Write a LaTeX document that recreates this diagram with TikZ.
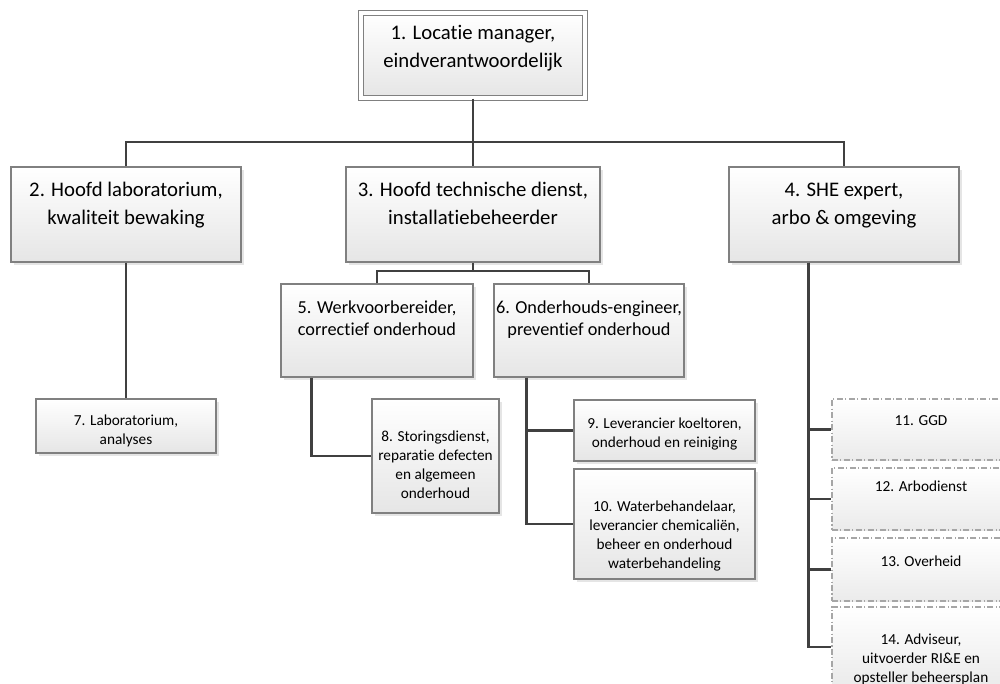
\documentclass[tikz,border=0pt]{standalone}
\usepackage{fontspec}
\setmainfont{Carlito}[Ligatures=CommonOff]
\usetikzlibrary{shadows}
\newcommand{\groot}{\fontsize{11.8}{15.4}\selectfont}
\newcommand{\middel}{\fontsize{10.4}{12.8}\selectfont}
\newcommand{\klein}{\fontsize{8.7}{10.9}\selectfont}
% breedte, hoogte, witruimte boven, tekst
\newcommand{\vak}[4]{\parbox[c][#2][t]{#1}{\centering\vspace*{#3}\strut #4\par}}
\tikzset{
  kader/.style={draw=black!50, line width=0.6pt, inner sep=0pt, top color=white, bottom color=black!10,
    drop shadow={shadow xshift=0.05cm, shadow yshift=-0.05cm, fill=black!20}},
  stippel/.style={draw=black!35, line width=0.6pt, dash pattern=on 3.4pt off 1.4pt on 0.6pt off 1.4pt,
    inner sep=0pt, top color=white, bottom color=black!8},
  lijn/.style={draw=black!75, line width=1.4pt},
}

\begin{document}
\begin{tikzpicture}
			\useasboundingbox (0,0) rectangle (20,-13.68);
			\clip (0,0) rectangle (20,-13.68);
			
			%%%%% bovenste lagen %%%%%
			\node[kader, double=white, double distance=2.4pt, font=\groot] (locatie) at (9.46,-1.11) {\vak{4.48cm}{1.70cm}{0.16cm}{1. Locatie manager,\\eindverantwoordelijk}};
			
			\node[kader, font=\groot] (hoofdlab) at (2.52,-4.29) {\vak{4.60cm}{1.90cm}{0.22cm}{2. Hoofd laboratorium,\\kwaliteit bewaking}};
			\node[kader, font=\groot] (hoofdtd) at (9.46,-4.29) {\vak{5.08cm}{1.90cm}{0.22cm}{3. Hoofd technische dienst,\\installatiebeheerder}};
			\node[kader, font=\groot] (she) at (16.88,-4.29) {\vak{4.60cm}{1.90cm}{0.22cm}{4. SHE expert,\\arbo \& omgeving}};
			
			\node[kader, font=\middel] (werkvoor) at (7.54,-6.61) {\vak{3.84cm}{1.86cm}{0.27cm}{5. Werkvoorbereider,\\correctief onderhoud}};
			\node[kader, font=\middel] (onderhoudseng) at (11.78,-6.61) {\vak{3.80cm}{1.86cm}{0.27cm}{6. Onderhouds-engineer,\\preventief onderhoud}};
			
			%%%%% uitvoerend %%%%%
			\node[kader, font=\klein] (lab) at (2.52,-8.52) {\vak{3.60cm}{1.08cm}{0.26cm}{7. Laboratorium,\\analyses}};
			\node[kader, font=\klein] (storing) at (8.71,-9.12) {\vak{2.54cm}{2.28cm}{0.58cm}{8. Storingsdienst,\\reparatie defecten\\en algemeen\\onderhoud}};
			\node[kader, font=\klein] (koeltoren) at (13.29,-8.61) {\vak{3.62cm}{1.22cm}{0.30cm}{9. Leverancier koeltoren,\\onderhoud en reiniging}};
			\node[kader, font=\klein] (waterbeh) at (13.29,-10.48) {\vak{3.62cm}{2.20cm}{0.58cm}{10. Waterbehandelaar,\\leverancier chemicaliën,\\beheer en onderhoud\\waterbehandeling}};
			
			%%%%% extern %%%%%
			\node[stippel, font=\klein] (ggd) at (18.42,-8.59) {\vak{3.56cm}{1.22cm}{0.26cm}{11. GGD}};
			\node[stippel, font=\klein] (arbo) at (18.42,-9.98) {\vak{3.56cm}{1.24cm}{0.20cm}{12. Arbodienst}};
			\node[stippel, font=\klein] (overheid) at (18.42,-11.39) {\vak{3.56cm}{1.26cm}{0.30cm}{13. Overheid}};
			\node[stippel, font=\klein] (adviseur) at (18.42,-12.94) {\vak{3.56cm}{1.60cm}{0.48cm}{14. Adviseur,\\uitvoerder RI\&E en\\opsteller beheersplan}};
			
			%%%%% lijnen %%%%%
			\coordinate (bus1) at (9.46,-2.84);
			\coordinate (bus2) at (9.46,-5.42);
			\draw[lijn] (locatie.south) -- (hoofdtd.north);
			\draw[lijn] (hoofdlab.north) |- (bus1) -| (she.north);
			\draw[lijn] (hoofdtd.south) -- (bus2);
			\draw[lijn] (werkvoor.north) |- (bus2) -| (onderhoudseng.north);
			\draw[lijn] (hoofdlab.south) -- (lab.north);
			\draw[lijn] ([xshift=0.62cm]werkvoor.south west) |- (storing.west);
			
			\coordinate (tak6) at ([xshift=0.66cm]onderhoudseng.south west);
			\draw[lijn] (tak6) |- (koeltoren.west);
			\draw[lijn] (tak6) |- (waterbeh.west);
			
			\coordinate (tak4) at ([xshift=1.6cm]she.south west);
			\foreach \n in {ggd,arbo,overheid,adviseur}
				\draw[lijn] (tak4) |- (\n.west);
		\end{tikzpicture}
\end{document}
